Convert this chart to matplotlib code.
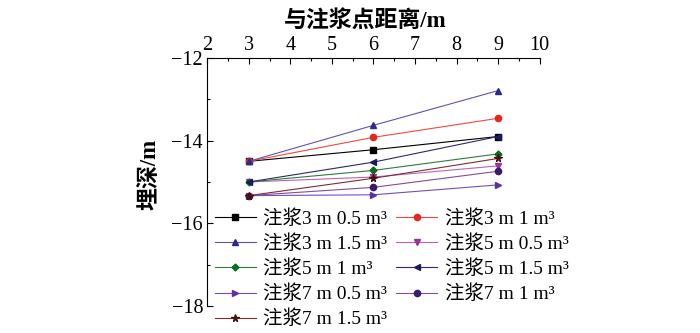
import matplotlib
matplotlib.use("Agg")
import matplotlib.pyplot as plt
from matplotlib.ticker import MultipleLocator

plt.rcParams['font.family'] = ['Liberation Serif', 'Noto Sans CJK SC']
plt.rcParams['axes.unicode_minus'] = True

distance = [3, 6, 9]

labels = [
    '注浆3 m 0.5 m³', '注浆3 m 1 m³', '注浆3 m 1.5 m³',
    '注浆5 m 0.5 m³', '注浆5 m 1 m³', '注浆5 m 1.5 m³',
    '注浆7 m 0.5 m³', '注浆7 m 1 m³', '注浆7 m 1.5 m³',
]
depth_3m_05 = [-14.50, -14.22, -13.90]
depth_3m_10 = [-14.50, -13.92, -13.46]
depth_3m_15 = [-14.50, -13.63, -12.79]
depth_5m_05 = [-15.00, -14.88, -14.61]
depth_5m_10 = [-15.00, -14.72, -14.32]
depth_5m_15 = [-15.00, -14.52, -13.90]
depth_7m_05 = [-15.33, -15.31, -15.07]
depth_7m_10 = [-15.33, -15.13, -14.74]
depth_7m_15 = [-15.33, -14.91, -14.43]

series = [depth_3m_05, depth_3m_10, depth_3m_15,
          depth_5m_05, depth_5m_10, depth_5m_15,
          depth_7m_05, depth_7m_10, depth_7m_15]
colors = ['#000000', '#e8261f', '#2d2a8c', '#993399', '#0b6b1e',
          '#1a1a5e', '#5a2fa8', '#3a1a6a', '#4a0f0f']
line_colors = ['#000000', '#f04a40', '#5a56b0', '#c060b8', '#2e7d3a',
               '#2a2a70', '#7050c0', '#8a4a9a', '#7a3030']
markers = ['s', 'o', '^', 'v', 'D', '<', '>', 'o', '*']
msizes = [4, 4.5, 4.5, 4.5, 3.5, 4.5, 4.5, 4.5, 5.5]

fig = plt.figure(figsize=(7, 3.33), dpi=100)
ax = fig.add_axes([0.296, 0.081, 0.475, 0.745])

for ys, lab, c, lc, m, ms in zip(series, labels, colors, line_colors, markers, msizes):
    ax.plot(distance, ys, color=lc, linewidth=0.8, marker=m, markersize=ms,
            markerfacecolor=c, markeredgecolor=c, label=lab)

ax.set_xlim(2, 10)
ax.set_ylim(-18, -12)
ax.xaxis.set_major_locator(MultipleLocator(1))
ax.xaxis.set_minor_locator(MultipleLocator(0.5))
ax.yaxis.set_major_locator(MultipleLocator(2))
ax.yaxis.set_minor_locator(MultipleLocator(1))
ax.xaxis.tick_top()
ax.xaxis.set_label_position('top')
ax.spines['right'].set_visible(False)
ax.spines['bottom'].set_visible(False)
ax.tick_params(which='both', direction='in', labelsize=14.5, width=0.8)
ax.tick_params(which='major', length=4)
ax.tick_params(which='minor', length=2.5)
ax.tick_params(axis='x', pad=2)
ax.tick_params(axis='y', pad=3)

ax.set_xlabel('与注浆点距离/m', fontsize=16.5, fontweight='bold', labelpad=6)
ax.set_ylabel('埋深/m', fontsize=16.5, fontweight='bold', labelpad=8)
ax.xaxis.label.set_x(0.475)
ax.yaxis.label.set_y(0.53)

# legend reads row by row: reorder so matplotlib's column fill matches
handles, names = ax.get_legend_handles_labels()
order = [0, 2, 4, 6, 8, 1, 3, 5, 7]
ax.legend([handles[i] for i in order], [names[i] for i in order],
          loc='upper left', bbox_to_anchor=(0.293, 0.40),
          bbox_transform=fig.transFigure, ncol=2, frameon=False,
          fontsize=14, handlelength=2.1, handletextpad=0.4,
          columnspacing=0.45, labelspacing=0.33, borderpad=0)

fig.savefig('out.png', dpi=100)
